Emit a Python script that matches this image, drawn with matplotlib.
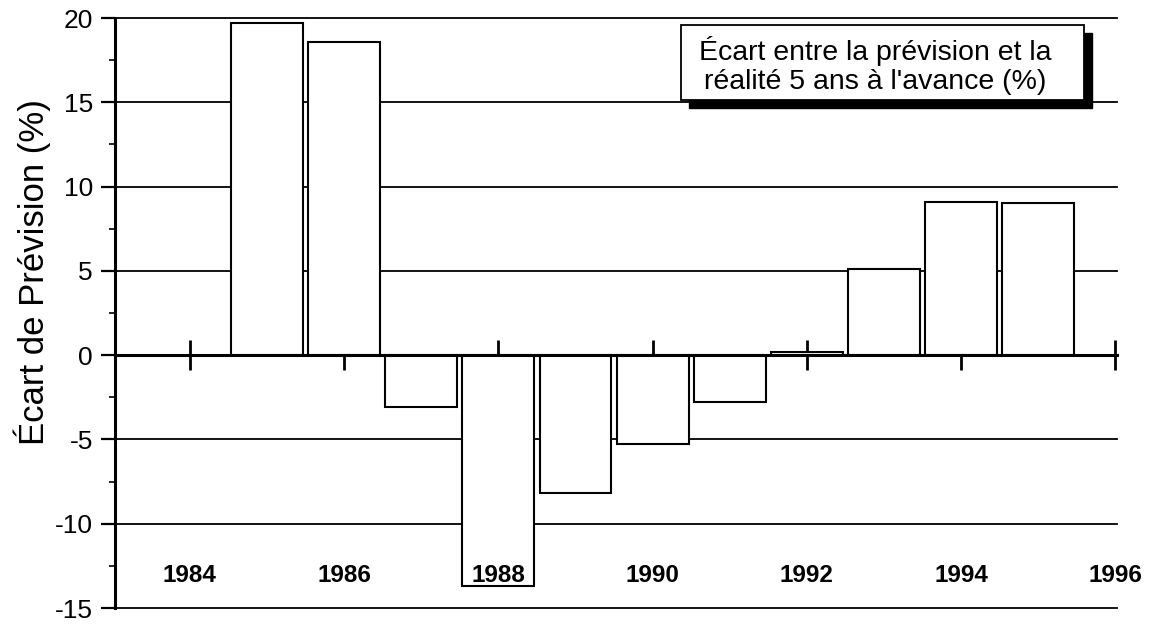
import matplotlib
matplotlib.use("Agg")
import matplotlib.pyplot as plt
from matplotlib.patches import Rectangle
from matplotlib.ticker import MultipleLocator

plt.rcParams['font.family'] = ['Liberation Sans', 'DejaVu Sans']
plt.rcParams['axes.unicode_minus'] = False

# Data
years = [1985, 1986, 1987, 1988, 1989, 1990, 1991, 1992, 1993, 1994, 1995]
ecart = [19.7, 18.6, -3.1, -13.7, -8.2, -5.3, -2.8, 0.2, 5.1, 9.1, 9.0]
year_ticks = [1984, 1986, 1988, 1990, 1992, 1994, 1996]
y_ticks = [-15, -10, -5, 0, 5, 10, 15, 20]
ylabel = "Écart de Prévision (%)"
legend_lines = ["Écart entre la prévision et la", "réalité 5 ans à l'avance (%)"]

W, H = 1161, 624
fig = plt.figure(figsize=(W / 100, H / 100), dpi=100)
ax = fig.add_axes([115 / W, 1 - 608 / H, (1117 - 115) / W, (608 - 18) / H])

# gridlines
for yv in y_ticks:
    ax.axhline(yv, color='black', lw=1.3, zorder=1, clip_on=False)

ax.bar(years, ecart, width=0.93, color='white', edgecolor='black',
       linewidth=1.5, zorder=3)

ax.set_xlim(1983.03, 1996.02)
ax.set_ylim(-15, 20)

ax.spines['top'].set_visible(False)
ax.spines['right'].set_visible(False)
ax.spines['bottom'].set_position(('data', 0))
ax.spines['bottom'].set_linewidth(2.2)
ax.spines['left'].set_linewidth(2.2)
ax.spines['bottom'].set_zorder(4)
ax.spines['left'].set_zorder(4)

ax.set_xticks(year_ticks)
ax.set_xticklabels([])
ax.tick_params(axis='x', direction='inout', length=21, width=2)

ax.set_yticks(y_ticks)
ax.yaxis.set_minor_locator(MultipleLocator(2.5))
ax.tick_params(axis='y', which='major', direction='out', length=10, width=1.6,
               labelsize=19, pad=6)
ax.tick_params(axis='y', which='minor', direction='out', length=4, width=1.2)

for yr in year_ticks:
    ax.text(yr, -13.05, str(yr), ha='center', va='center', fontsize=17.5,
            fontweight='bold', zorder=5)

fig.text(32 / W, 1 - 272 / H, ylabel, rotation=90, ha='center', va='center',
         fontsize=25)

# legend box with shadow
bx0, by0, bx1, by1 = 681, 25, 1084, 100
off = 8
fig.add_artist(Rectangle(((bx0 + off) / W, 1 - (by1 + off) / H),
                         (bx1 - bx0) / W, (by1 - by0) / H,
                         transform=fig.transFigure, facecolor='black',
                         edgecolor='black', zorder=10))
fig.add_artist(Rectangle((bx0 / W, 1 - by1 / H), (bx1 - bx0) / W,
                         (by1 - by0) / H, transform=fig.transFigure,
                         facecolor='white', edgecolor='black', lw=1.3,
                         zorder=11))
fig.text(875 / W, 1 - 60 / H, legend_lines[0], ha='center', va='baseline',
         fontsize=20.5, zorder=12)
fig.text(875 / W, 1 - 89 / H, legend_lines[1], ha='center', va='baseline',
         fontsize=20.5, zorder=12)

fig.savefig("out.png", dpi=100)
